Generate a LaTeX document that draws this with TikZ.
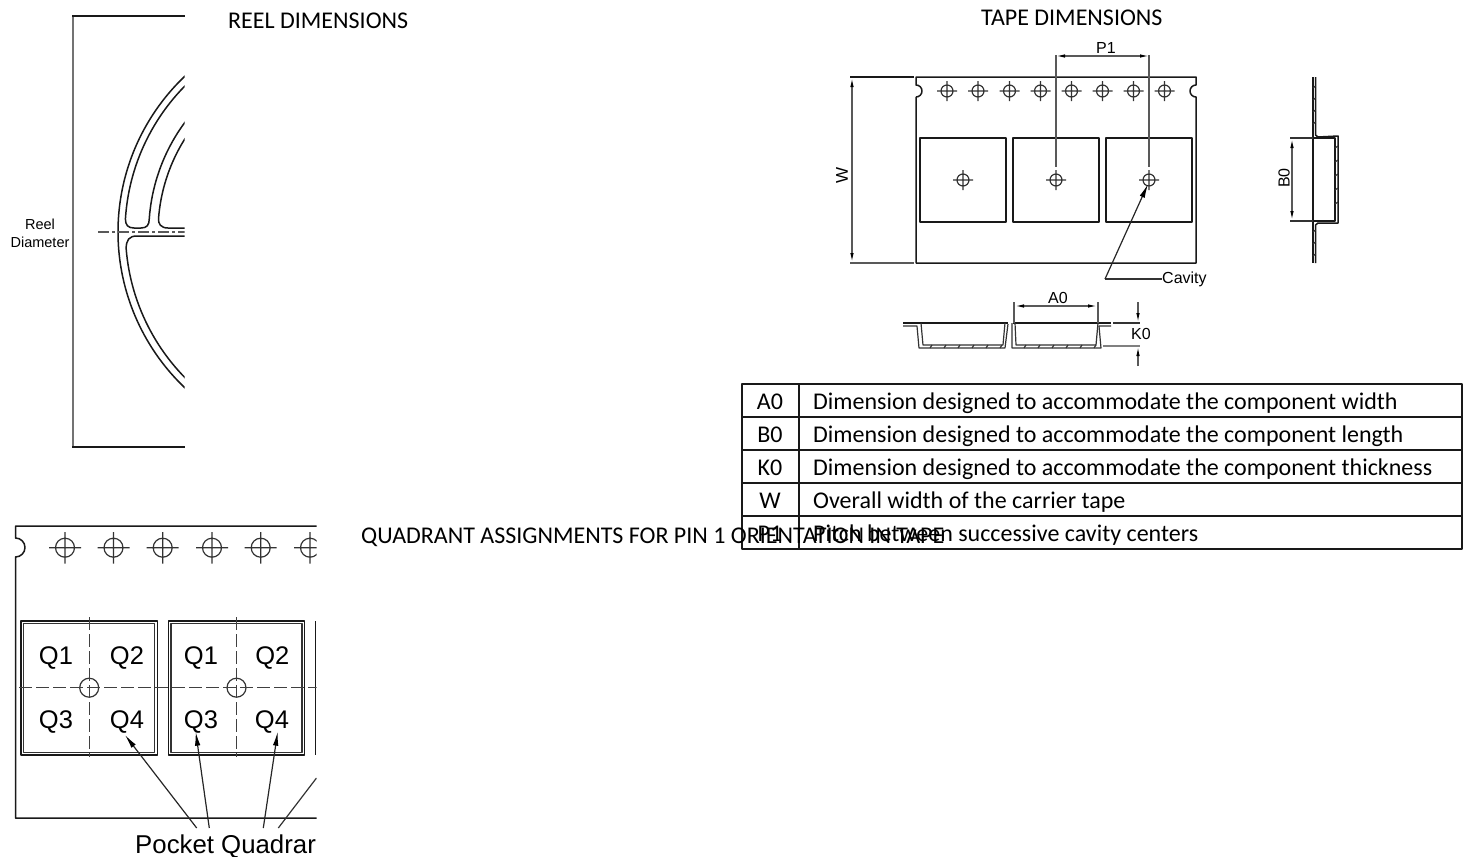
\documentclass[tikz,border=0pt]{standalone}
\usepackage{fontspec}
\setmainfont{Carlito}
\newfontfamily\arialfont{Liberation Sans}
\usetikzlibrary{arrows.meta}
\begin{document}
\begin{tikzpicture}[x=1pt,y=-1pt,line join=round,
	line/.style={black!90,line width=1.5pt},
	thin line/.style={black!80,line width=1.2pt},
	ext line/.style={black!65,line width=1.1pt},
	pocket/.style={black!90,line width=2.1pt},
	dim/.style={black!65,line width=1.2pt,{Latex[length=9pt,width=3.5pt,black]}-{Latex[length=9pt,width=3.5pt,black]}},
	tip/.style={black!85,line width=1.2pt,-{Latex[length=14pt,width=5.5pt,black]}},
	title/.style={inner sep=0,anchor=base west,font=\fontsize{24}{28}\selectfont},
	cell/.style={inner sep=0,anchor=base west,font=\fontsize{24}{28}\selectfont},
	arial/.style={inner sep=0,font=\arialfont\fontsize{#1}{#1}\selectfont}]
	\useasboundingbox (0,0) rectangle (1468,857);

	% reel
	\draw[black!55,line width=1.7pt] (73,16) -- (73,447);
	\draw[line] (72,16) -- (184.5,16) (72,447) -- (184.5,447);
	\begin{scope}
		\clip (90,0) rectangle (184.5,460);
		\coordinate (C) at (333,232);
		\draw[line] (C) ++(232:215) arc[start angle=232,end angle=128,radius=215];
		\draw[line] (C) ++(232:208) arc[start angle=232,end angle=183.6,radius=208]
			.. controls (125.4,225) and (128,228) .. (134,228) -- (141,228)
			.. controls (147,228) and (149.3,225) .. (149.3,218.3)
			arc[start angle=184.2,end angle=232,radius=184];
		\draw[line] (C) ++(232:175) arc[start angle=232,end angle=184.5,radius=175]
			.. controls (158,224) and (161,228) .. (168,228) -- (190,228);
		\draw[line] (190,236) -- (137,236) .. controls (129,236) and (126.5,240) .. (126.1,248)
			arc[start angle=175.6,end angle=128,radius=208];
		\draw[black!65,line width=1.2pt,dash pattern=on 11pt off 3pt on 3pt off 3pt] (98,232) -- (190,232);
	\end{scope}
	\node[arial=14.5] (R1) at (40,224) {Reel};
	\node[arial=14.5] (R2) at (40,242) {Diameter};
	\node[title] (T1) at (228,28) {REEL DIMENSIONS};

	% tape
	\node[title] (T2) at (981,25) {TAPE DIMENSIONS};
	\draw[line] (916,97) -- (916,263) -- (1196,263) -- (1196,97)
		arc[start angle=90,end angle=270,radius=6] -- (1196,77) -- (916,77) -- (916,85)
		arc[start angle=-90,end angle=90,radius=6];
	\foreach \x in {947,978,1009.5,1040.5,1071.5,1102.5,1133.5,1164.5}
		\draw[thin line] (\x,91) circle[radius=6] (\x-10,91) -- (\x+10,91) (\x,81) -- (\x,101);
	\foreach \x/\n in {963/A,1056/B,1149/D} {
		\draw[pocket] (\x-42.7,138) rectangle (\x+42.7,222);
		\coordinate (\n) at (\x,180);
		\draw[thin line] (\n) circle[radius=6] (\x-10,180) -- (\x+10,180) (\x,170) -- (\x,190);
	}

	% P1
	\draw[ext line] (1056,55) -- (1056,167) (1149,55) -- (1149,167);
	\draw[dim] (1056,56) -- (1149,56);
	\node[arial=16] (P1) at (1106,48) {P1};

	% W
	\draw[line] (850,77) -- (914,77);
	\draw[ext line] (850,263) -- (914,263);
	\draw[dim] (852,78) -- (852,262);
	\node[arial=17,rotate=90] (W1) at (842,175) {W};

	% cavity
	\coordinate (L1) at (1105,279);
	\node[arial=16,anchor=west] (L2) at (1162,279) {Cavity};
	\draw[thin line] (L2.west) -- (L1);
	\draw[tip] (L1) -- (1148,184);

	% side view
	\draw[line] (1313,77) -- (1313,263);
	\draw[line] (1315.5,77) -- (1315.5,135) -- (1318,137) -- (1338,136) -- (1338,223) -- (1318,223) -- (1315.5,225) -- (1315.5,263);
	\draw[line] (1313,138) -- (1335,138) -- (1335,221) -- (1313,221);
	\foreach \y in {88,100,...,124,232,244,256} \draw[thin line] (1313,\y) -- (1315.5,\y-2);
	\foreach \y in {148,162,...,212} \draw[thin line] (1335,\y) -- (1338,\y-2);
	\draw[thin line] (1290,138) -- (1313,138) (1290,221) -- (1313,221);
	\draw[dim] (1292,139) -- (1292,220);
	\node[arial=16,rotate=90] (B0) at (1284,178) {B0};

	% cross section
	\draw[line] (903,323) -- (1008,323) (1013,323) -- (1111,323);
	\draw[thin line] (903,326) -- (917,326) -- (919,348) -- (1005,348) -- (1008,324);
	\draw[thin line] (921,323) -- (923,345) -- (1003,345) -- (1005,323);
	\draw[thin line] (1012,323) -- (1012,348) -- (1101,348) -- (1099,326) -- (1111,326);
	\draw[thin line] (1015,323) -- (1016,345) -- (1096,345) -- (1098,323);
	\foreach \x in {930,944,...,1000} \draw[thin line] (\x,348) -- (\x+2,345);
	\foreach \x in {1024,1038,...,1094} \draw[thin line] (\x,348) -- (\x+2,345);
	\draw[ext line] (1014,302) -- (1014,323) (1098,302) -- (1098,323);
	\draw[dim] (1015,306) -- (1097,306);
	\node[arial=16] (A0) at (1058,298) {A0};
	\draw[thin line] (1113,323) -- (1140,323);
	\draw[black!50,line width=1.2pt] (1103,346) -- (1140,346);
	\draw[ext line,-{Latex[length=9pt,width=3.5pt,black]}] (1138,302) -- (1138,322);
	\draw[ext line,-{Latex[length=9pt,width=3.5pt,black]}] (1138,366) -- (1138,347);
	\node[arial=16] (K0) at (1141,334) {K0};

	% table
	\draw[line] (742,384) rectangle (1462,549);
	\foreach \y in {417,450,483,516} \draw[line] (742,\y) -- (1462,\y);
	\draw[line] (799,384) -- (799,549);
	\foreach \y/\n/\k/\t in {409/A/A0/Dimension designed to accommodate the component width,
		442/B/B0/Dimension designed to accommodate the component length,
		475/K/K0/Dimension designed to accommodate the component thickness,
		508/W/W/Overall width of the carrier tape,
		541/P/P1/Pitch between successive cavity centers} {
		\node[cell,anchor=base] (\n0) at (770,\y) {\k};
		\node[cell] (\n1) at (813,\y) {\t};
	}
	\node[title] (T3) at (361,543) {QUADRANT ASSIGNMENTS FOR PIN 1 ORIENTATION IN TAPE};

	% quadrants
	\begin{scope}
		\clip (0,500) rectangle (316.5,857);
		\draw[line] (316.5,526) -- (15.5,526) -- (15.5,538)
			arc[start angle=-90,end angle=90,radius=9.5] -- (15.5,818) -- (316.5,818);
		\foreach \x in {65,113.5,162.7,212,260.7,310}
			\draw[thin line] (\x,547.7) circle[radius=9.5] (\x-16,547.7) -- (\x+16,547.7) (\x,532) -- (\x,563.5);
		\foreach \x in {89.2,236.5} {
			\draw[line] (\x-68.2,621) rectangle (\x+68.2,755);
			\draw[thin line] (\x-65.5,623.5) rectangle (\x+65.5,752.5);
			\draw[thin line] (\x,687.7) circle[radius=9.5];
			\draw[black!75,line width=1.2pt,dash pattern=on 13pt off 4pt] (\x,617) -- (\x,757);
		}
		\draw[line] (315.7,621) -- (315.7,755) (319,621) -- (319,755);
		\draw[black!75,line width=1.2pt,dash pattern=on 13pt off 4pt] (19,687.7) -- (316.5,687.7);
		\coordinate (E1) at (316.5,778);
		\draw[thin line] (278.3,828) -- (E1);
	\end{scope}
	\foreach \x/\y/\t/\n in {56/658/Q1/a,127/658/Q2/b,201/658/Q1/c,272.3/658/Q2/d,56/722/Q3/e,127/722/Q4/f,201/722/Q3/g,272/722/Q4/h}
		\node[arial=25.5] (Q\n) at (\x,\y) {\t};
	\node[arial=25.8,anchor=base west] (Q0) at (135,853) {Pocket Quadrar};
	\coordinate (F1) at (196.7,828);
	\coordinate (F2) at (209.3,828);
	\coordinate (F3) at (263.3,828);
	\draw[tip] (F1) -- (125,735);
	\draw[tip] (F2) -- (195.7,731.7);
	\draw[tip] (F3) -- (277.7,731.7);
\end{tikzpicture}
\end{document}
